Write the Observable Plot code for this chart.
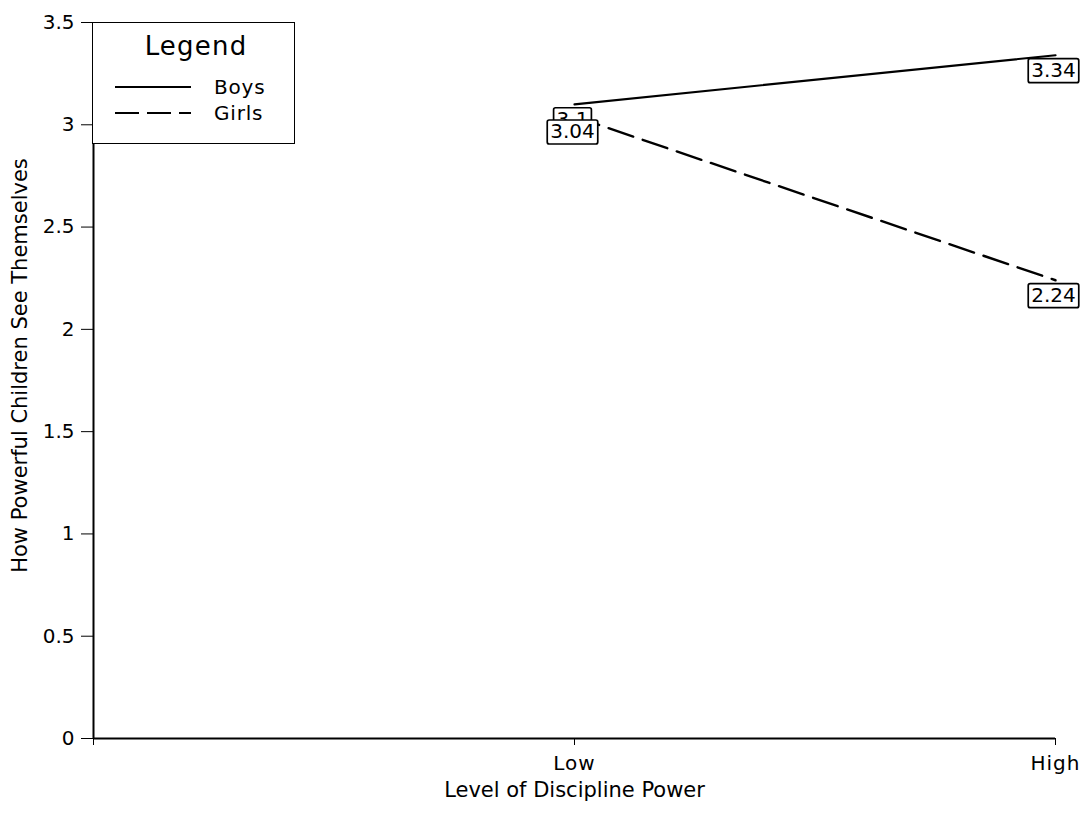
<!DOCTYPE html>
<html><head><meta charset="utf-8">
<script src="https://cdn.jsdelivr.net/npm/d3@7"></script>
<script src="https://cdn.jsdelivr.net/npm/@observablehq/plot@0.6"></script>
<style>
body{margin:0;background:#fff;font-family:"DejaVu Sans",sans-serif;}
#wrap{position:relative;width:1092px;height:814px;}
#wrap > svg{position:absolute;left:0;top:0;}
#legend{position:absolute;left:92px;top:22px;width:203px;height:122px;border:1.6px solid #000;box-sizing:border-box;background:#fff;}
</style></head><body>
<div id="wrap"></div>
<script>
// categories
const levels = ["", "Low", "High"];
const pointLevels = ["Low", "High"];
const series = ["Boys", "Girls"];
// series values
const boysValues = [3.1, 3.34];
const girlsValues = [3.04, 2.24];
// tick labels
const yTicks = [0, 0.5, 1, 1.5, 2, 2.5, 3, 3.5];
const xTitle = "Level of Discipline Power";
const yTitle = "How Powerful Children See Themselves";

const dashes = {Boys: null, Girls: "26,10"};

const rows = [];
pointLevels.forEach((lv, i) => rows.push({series: "Boys", level: lv, x: levels.indexOf(lv), value: boysValues[i]}));
pointLevels.forEach((lv, i) => rows.push({series: "Girls", level: lv, x: levels.indexOf(lv), value: girlsValues[i]}));

const boysRows = rows.filter(d => d.series === "Boys");
const girlsRows = rows.filter(d => d.series === "Girls");

const chart = Plot.plot({
  width: 1092,
  height: 814,
  marginLeft: 93,
  marginRight: 37,
  marginTop: 22,
  marginBottom: 76,
  style: {fontSize: "20px", fontFamily: "DejaVu Sans, sans-serif", color: "#000", background: "#fff"},
  x: {domain: [0, levels.length - 1]},
  y: {domain: [0, 3.5]},
  marks: [
    Plot.axisY({ticks: yTicks, tickSize: 12, tickPadding: 7, tickFormat: d => String(d), fontSize: 20, label: null}),
    Plot.axisX({ticks: d3.range(levels.length), tickSize: 7, tickPadding: 10, tickFormat: i => levels[i], fontSize: 20, label: null}),
    Plot.text([yTitle], {frameAnchor: "left", textAnchor: "middle", lineAnchor: "middle", rotate: -90, dx: -73, dy: -15, fontSize: 21, fill: "#000"}),
    Plot.text([xTitle], {frameAnchor: "bottom", textAnchor: "middle", lineAnchor: "middle", dy: 52, fontSize: 21, fill: "#000"}),
    Plot.ruleY([0], {stroke: "#000", strokeWidth: 2}),
    Plot.ruleX([0], {stroke: "#000", strokeWidth: 2}),
    Plot.line(boysRows, {x: "x", y: "value", stroke: "#000", strokeWidth: 2.2}),
    Plot.line(girlsRows, {x: "x", y: "value", stroke: "#000", strokeWidth: 2.4, strokeDasharray: dashes.Girls}),
    Plot.text(rows, {x: "x", y: "value", text: d => String(d.value), dy: 15, dx: -2, fill: "#000", fontSize: 20})
  ]
});

const wrap = document.getElementById("wrap");
wrap.appendChild(chart);

chart.querySelectorAll('g[aria-label="x-axis tick label"] text').forEach(t => t.style.letterSpacing = "1px");

// boxes behind value labels
const valueTexts = chart.querySelectorAll('g[aria-label="text"] text');
valueTexts.forEach(t => {
  if (!rows.some(d => String(d.value) === t.textContent)) return;
  const b = t.getBBox();
  const r = document.createElementNS("http://www.w3.org/2000/svg", "rect");
  r.setAttribute("x", b.x - 3);
  r.setAttribute("y", b.y + 1);
  r.setAttribute("width", b.width + 6);
  r.setAttribute("height", b.height);
  r.setAttribute("fill", "#fff");
  r.setAttribute("stroke", "#000");
  r.setAttribute("stroke-width", 1.7);
  r.setAttribute("rx", 2);
  if (t.getAttribute("transform")) r.setAttribute("transform", t.getAttribute("transform"));
  t.parentNode.insertBefore(r, t);
});

// legend
const legend = document.createElement("div");
legend.id = "legend";
const ns = "http://www.w3.org/2000/svg";
const ls = document.createElementNS(ns, "svg");
ls.setAttribute("width", 200);
ls.setAttribute("height", 120);
ls.style.fontFamily = "DejaVu Sans, sans-serif";
const title = document.createElementNS(ns, "text");
title.setAttribute("x", 103); title.setAttribute("y", 32);
title.setAttribute("text-anchor", "middle");
title.setAttribute("font-size", 26);
title.setAttribute("letter-spacing", "1.2");
title.textContent = "Legend";
ls.appendChild(title);
series.forEach((s, i) => {
  const y = 64 + i * 26;
  const ln = document.createElementNS(ns, "line");
  ln.setAttribute("x1", 22); ln.setAttribute("x2", 98);
  ln.setAttribute("y1", y); ln.setAttribute("y2", y);
  ln.setAttribute("stroke", "#000"); ln.setAttribute("stroke-width", 2);
  if (dashes[s]) ln.setAttribute("stroke-dasharray", "24,8");
  ls.appendChild(ln);
  const tx = document.createElementNS(ns, "text");
  tx.setAttribute("x", 121); tx.setAttribute("y", y + 7);
  tx.setAttribute("font-size", 20);
  tx.setAttribute("letter-spacing", "0.8");
  tx.textContent = s;
  ls.appendChild(tx);
});
legend.appendChild(ls);
wrap.appendChild(legend);
</script>
</body></html>
